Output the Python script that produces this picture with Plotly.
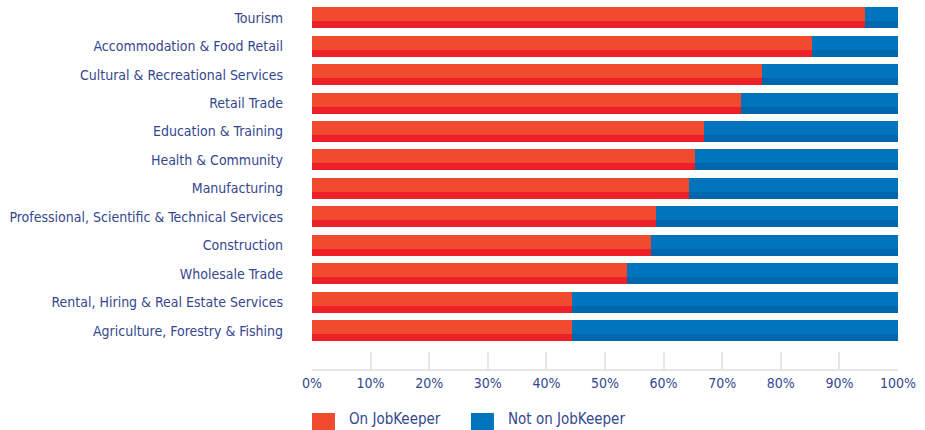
import plotly.graph_objects as go

# Industries (top to bottom) and share of businesses on JobKeeper (%)
industries = [
    "Tourism",
    "Accommodation & Food Retail",
    "Cultural & Recreational Services",
    "Retail Trade",
    "Education & Training",
    "Health & Community",
    "Manufacturing",
    "Professional, Scientific & Technical Services",
    "Construction",
    "Wholesale Trade",
    "Rental, Hiring & Real Estate Services",
    "Agriculture, Forestry & Fishing",
]
on_jobkeeper = [94.4, 85.3, 76.8, 73.2, 66.9, 65.4, 64.3, 58.7, 57.8, 53.8, 44.4, 44.3]
not_on_jobkeeper = [round(100 - v, 1) for v in on_jobkeeper]

tick_vals = [0, 10, 20, 30, 40, 50, 60, 70, 80, 90, 100]
tick_text = [f"{v}%" for v in tick_vals]

RED_LIGHT = "#F04A2F"
RED_DARK = "#EC2026"
BLUE_LIGHT = "#0075BD"
BLUE_DARK = "#0067AC"
NAVY = "#34478E"
FONT = "DejaVu Sans Condensed, Liberation Sans Narrow, sans-serif"

pos = list(range(len(industries)))
BAR_W = 0.738
SHADE_W = 0.246  # darker strip along the lower edge of each bar

fig = go.Figure()

def add_bar(values, base, color, width, offset, name):
    fig.add_trace(go.Bar(
        y=pos, x=values, base=base, orientation="h",
        width=width, offset=offset,
        marker=dict(color=color, line=dict(width=0)),
        name=name, showlegend=False, hoverinfo="skip",
    ))

add_bar(on_jobkeeper, [0] * len(pos), RED_LIGHT, BAR_W, -BAR_W / 2, "On JobKeeper")
add_bar(not_on_jobkeeper, on_jobkeeper, BLUE_LIGHT, BAR_W, -BAR_W / 2, "Not on JobKeeper")
add_bar(on_jobkeeper, [0] * len(pos), RED_DARK, SHADE_W, BAR_W / 2 - SHADE_W, "On JobKeeper")
add_bar(not_on_jobkeeper, on_jobkeeper, BLUE_DARK, SHADE_W, BAR_W / 2 - SHADE_W, "Not on JobKeeper")

fig.update_layout(
    width=925, height=430,
    margin=dict(l=312, r=27, t=3, b=61),
    barmode="overlay",
    bargap=0,
    plot_bgcolor="white", paper_bgcolor="white",
    font=dict(family=FONT, size=14, color=NAVY),
    showlegend=False,
)

fig.update_xaxes(
    range=[0, 100],
    tickvals=tick_vals, ticktext=tick_text,
    showgrid=False, zeroline=False,
    showline=True, linecolor="#E6E6E6", linewidth=2,
    ticks="inside", ticklen=17, tickwidth=2, tickcolor="#E6E6E6",
    tickfont=dict(family=FONT, size=14, color=NAVY),
    automargin=False, fixedrange=True,
)
fig.update_yaxes(
    range=[12.35, -0.52],
    tickvals=pos, ticktext=industries,
    showgrid=False, zeroline=False, showline=False,
    ticks="", ticklabelstandoff=28,
    tickfont=dict(family=FONT, size=14, color=NAVY),
    automargin=False, fixedrange=True,
)

# Legend: swatches and labels below the axis
legend_items = [("On JobKeeper", RED_LIGHT, 0.0), ("Not on JobKeeper", BLUE_LIGHT, 0.2713)]
for label, color, x0 in legend_items:
    fig.add_shape(type="rect", xref="paper", yref="paper",
                  x0=x0, x1=x0 + 0.0392, y0=-0.19, y1=-0.1202,
                  fillcolor=color, line=dict(width=0), layer="above")
    fig.add_annotation(xref="paper", yref="paper", x=x0 + 0.0597, y=-0.136,
                       text=label, showarrow=False, xanchor="left", yanchor="middle",
                       font=dict(family=FONT, size=15, color=NAVY))

fig.write_html("out.html")
